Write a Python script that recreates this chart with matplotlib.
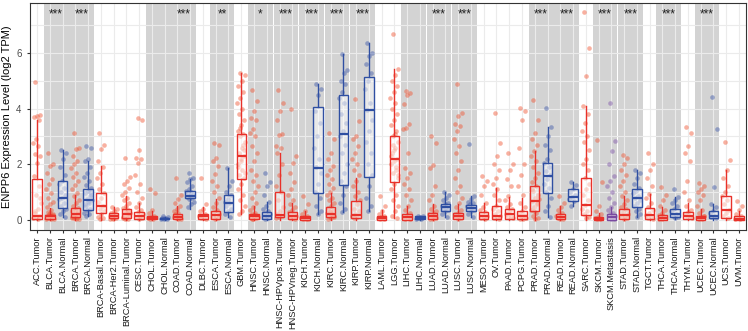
import matplotlib
matplotlib.use("Agg")
import matplotlib.pyplot as plt
from matplotlib.patches import Rectangle
import numpy as np

plt.rcParams['font.family'] = ['Liberation Sans', 'DejaVu Sans']

# Categories (x axis)
categories = [
    "ACC.Tumor", "BLCA.Tumor", "BLCA.Normal", "BRCA.Tumor", "BRCA.Normal",
    "BRCA-Basal.Tumor", "BRCA-Her2.Tumor", "BRCA-Luminal.Tumor", "CESC.Tumor",
    "CHOL.Tumor", "CHOL.Normal", "COAD.Tumor", "COAD.Normal", "DLBC.Tumor",
    "ESCA.Tumor", "ESCA.Normal", "GBM.Tumor", "HNSC.Tumor", "HNSC.Normal",
    "HNSC-HPVpos.Tumor", "HNSC-HPVneg.Tumor", "KICH.Tumor", "KICH.Normal",
    "KIRC.Tumor", "KIRC.Normal", "KIRP.Tumor", "KIRP.Normal", "LAML.Tumor",
    "LGG.Tumor", "LIHC.Tumor", "LIHC.Normal", "LUAD.Tumor", "LUAD.Normal",
    "LUSC.Tumor", "LUSC.Normal", "MESO.Tumor", "OV.Tumor", "PAAD.Tumor",
    "PCPG.Tumor", "PRAD.Tumor", "PRAD.Normal", "READ.Tumor", "READ.Normal",
    "SARC.Tumor", "SKCM.Tumor", "SKCM.Metastasis", "STAD.Tumor", "STAD.Normal",
    "TGCT.Tumor", "THCA.Tumor", "THCA.Normal", "THYM.Tumor", "UCEC.Tumor",
    "UCEC.Normal", "UCS.Tumor", "UVM.Tumor",
]

# Box statistics (log2 TPM)
q1 = [0.04, 0.02, 0.42, 0.10, 0.36, 0.25, 0.06, 0.07, 0.04, 0.01, 0.02, 0.01, 0.78, 0.04,
      0.01, 0.27, 1.47, 0.01, 0.04, 0.10, 0.04, 0.00, 0.97, 0.10, 1.26, 0.06, 1.53, 0.00,
      1.37, 0.00, 0.01, 0.04, 0.33, 0.04, 0.30, 0.04, 0.01, 0.04, 0.01, 0.31, 0.95, 0.01,
      0.66, 0.18, 0.00, 0.00, 0.04, 0.45, 0.04, 0.00, 0.10, 0.04, 0.00, 0.07, 0.07, 0.00]
med = [0.15, 0.12, 0.78, 0.21, 0.72, 0.51, 0.15, 0.21, 0.15, 0.07, 0.04, 0.10, 0.87, 0.13,
       0.18, 0.60, 2.30, 0.13, 0.15, 0.18, 0.12, 0.06, 1.88, 0.21, 3.10, 0.18, 3.95, 0.07,
       2.18, 0.10, 0.07, 0.15, 0.45, 0.15, 0.43, 0.15, 0.15, 0.21, 0.12, 0.67, 1.59, 0.10,
       0.83, 0.54, 0.03, 0.10, 0.18, 0.78, 0.18, 0.07, 0.21, 0.15, 0.07, 0.15, 0.36, 0.04]
q3 = [1.47, 0.18, 1.41, 0.42, 1.10, 0.95, 0.24, 0.39, 0.27, 0.15, 0.06, 0.20, 1.05, 0.21,
      0.31, 0.90, 3.10, 0.21, 0.27, 1.00, 0.27, 0.13, 4.05, 0.45, 4.48, 0.66, 5.14, 0.15,
      3.00, 0.21, 0.13, 0.25, 0.57, 0.25, 0.54, 0.27, 0.51, 0.39, 0.33, 1.20, 2.06, 0.21,
      1.10, 1.49, 0.10, 0.19, 0.37, 1.09, 0.42, 0.18, 0.39, 0.27, 0.15, 0.33, 0.87, 0.12]
whis_lo = [0.00, 0.00, 0.10, 0.00, 0.15, 0.00, 0.00, 0.00, 0.00, 0.00, 0.00, 0.00, 0.40, 0.00,
           0.00, 0.10, 0.20, 0.00, 0.00, 0.00, 0.00, 0.00, 0.21, 0.00, 0.27, 0.00, 0.33, 0.00,
           0.05, 0.00, 0.00, 0.00, 0.10, 0.00, 0.10, 0.00, 0.00, 0.00, 0.00, 0.00, 0.10, 0.00,
           0.51, 0.00, 0.00, 0.00, 0.00, 0.10, 0.00, 0.00, 0.03, 0.00, 0.00, 0.00, 0.00, 0.00]
whis_hi = [3.59, 0.42, 2.50, 0.90, 2.10, 1.94, 0.45, 0.85, 0.60, 0.30, 0.10, 0.48, 1.47, 0.45,
           0.75, 1.88, 5.30, 0.50, 0.63, 2.42, 0.60, 0.30, 4.87, 0.95, 5.96, 1.50, 6.38, 0.35,
           5.43, 0.50, 0.15, 0.55, 0.99, 0.55, 0.87, 0.60, 1.14, 0.81, 0.80, 2.48, 3.35, 0.50,
           1.37, 4.09, 0.25, 0.45, 0.85, 1.79, 0.93, 0.45, 0.81, 0.60, 0.37, 0.57, 1.79, 0.30]

# Visible sample points per category (approximate readings)
points = [
    [4.95, 3.78, 3.75, 3.7, 3.6, 2.9, 2.78, 2.66, 2.36, 2.3, 2.06, 1.59, 1.2, 0.9, 0.6, 0.4, 0.25, 0.15, 0.1, 0.05, 0.02, 0.3, 0.8],
    [2.42, 2.0, 1.94, 1.7, 1.47, 1.29, 1.1, 0.95, 0.8, 0.65, 0.55, 0.45, 0.35, 0.28, 0.2, 0.15, 0.12, 0.08, 0.05, 0.03, 0.02, 0.1, 0.18, 0.25, 0.06, 0.14, 0.22, 0.04, 0.09],
    [2.5, 2.4, 2.2, 1.9, 1.6, 1.4, 1.3, 1.15, 1.0, 0.9, 0.8, 0.75, 0.6, 0.5, 0.4, 0.3, 0.2, 0.1],
    [3.14, 2.6, 2.55, 2.3, 2.1, 2.0, 1.85, 1.7, 1.55, 1.4, 1.25, 1.1, 0.95, 0.85, 0.7, 0.6, 0.5, 0.42, 0.35, 0.3, 0.25, 0.2, 0.15, 0.12, 0.1, 0.08, 0.05, 0.03, 0.02, 0.18, 0.28, 0.38, 0.07, 0.22, 0.13],
    [2.66, 2.6, 2.2, 2.1, 1.9, 1.7, 1.55, 1.4, 1.25, 1.15, 1.05, 0.95, 0.85, 0.75, 0.7, 0.6, 0.5, 0.4, 0.35, 0.25, 0.2, 0.15, 0.9, 0.65, 0.55, 1.0],
    [3.14, 2.7, 2.56, 2.1, 1.9, 1.7, 1.5, 1.3, 1.1, 0.95, 0.8, 0.65, 0.5, 0.4, 0.3, 0.2, 0.1, 0.05, 0.02],
    [0.45, 0.38, 0.3, 0.25, 0.2, 0.17, 0.14, 0.1, 0.08, 0.06, 0.04, 0.02],
    [2.24, 1.55, 1.4, 1.3, 1.15, 1.0, 0.9, 0.8, 0.7, 0.6, 0.5, 0.42, 0.36, 0.3, 0.25, 0.2, 0.15, 0.12, 0.08, 0.05, 0.03, 0.01, 0.18, 0.27, 0.1, 0.33],
    [3.67, 3.6, 2.5, 2.24, 2.18, 2.06, 1.6, 1.3, 1.0, 0.8, 0.6, 0.45, 0.35, 0.27, 0.2, 0.15, 0.1, 0.06, 0.03],
    [1.1, 0.95, 0.35, 0.25, 0.15, 0.1, 0.07, 0.04, 0.02],
    [0.15, 0.1, 0.07, 0.05, 0.04, 0.03, 0.02],
    [1.5, 0.9, 0.75, 0.6, 0.5, 0.4, 0.3, 0.25, 0.2, 0.15, 0.12, 0.1, 0.07, 0.05, 0.03, 0.01, 0.18, 0.09, 0.13],
    [1.7, 1.5, 1.45, 1.35, 1.2, 1.1, 1.05, 1.0, 0.95, 0.9, 0.87, 0.83, 0.8, 0.75, 0.65, 0.55, 0.45],
    [1.5, 0.55, 0.4, 0.3, 0.2, 0.15, 0.12, 0.08, 0.05, 0.03],
    [2.75, 2.7, 2.24, 2.1, 1.94, 1.65, 1.4, 1.2, 1.0, 0.8, 0.6, 0.45, 0.35, 0.28, 0.2, 0.15, 0.1, 0.05, 0.02],
    [1.88, 1.4, 1.2, 1.0, 0.9, 0.75, 0.65, 0.6, 0.5, 0.4, 0.3, 0.2, 0.1],
    [5.3, 5.2, 5.0, 4.8, 4.6, 4.4, 4.2, 4.0, 3.8, 3.6, 3.4, 3.2, 3.1, 3.0, 2.8, 2.6, 2.4, 2.3, 2.2, 2.0, 1.8, 1.6, 1.5, 1.3, 1.1, 0.9, 0.7, 0.5, 0.3, 0.2, 2.5, 2.1, 1.9, 2.7, 3.3, 1.7],
    [4.66, 4.27, 3.9, 3.67, 3.6, 3.25, 3.14, 3.0, 2.66, 2.4, 2.1, 1.8, 1.6, 1.4, 1.2, 1.0, 0.8, 0.6, 0.45, 0.35, 0.25, 0.2, 0.15, 0.12, 0.08, 0.05, 0.02, 0.1, 0.17, 0.04],
    [1.7, 1.35, 1.2, 0.9, 0.63, 0.5, 0.4, 0.3, 0.25, 0.2, 0.15, 0.1, 0.06, 0.03],
    [4.66, 4.2, 3.9, 3.6, 3.1, 3.05, 2.66, 2.6, 2.42, 2.0, 1.6, 1.2, 1.0, 0.7, 0.45, 0.3, 0.2, 0.15, 0.1, 0.05],
    [3.97, 2.3, 2.06, 1.7, 1.35, 1.1, 0.9, 0.7, 0.55, 0.45, 0.35, 0.27, 0.2, 0.15, 0.12, 0.08, 0.05, 0.02],
    [0.85, 0.55, 0.3, 0.2, 0.13, 0.1, 0.06, 0.04, 0.02, 0.01],
    [4.87, 4.7, 4.5, 3.9, 3.5, 3.0, 2.6, 2.2, 1.9, 1.7, 1.3, 1.0, 0.8, 0.5, 0.3, 0.21],
    [3.14, 2.9, 2.42, 2.2, 1.94, 1.8, 1.6, 1.45, 1.3, 1.15, 1.0, 0.9, 0.8, 0.7, 0.6, 0.5, 0.42, 0.35, 0.3, 0.25, 0.2, 0.15, 0.1, 0.07, 0.04, 0.18, 0.28, 0.12, 0.22],
    [5.96, 5.4, 5.3, 5.0, 4.9, 4.6, 4.4, 4.2, 3.8, 3.5, 3.2, 3.0, 2.7, 2.4, 2.0, 1.7, 1.4, 1.2, 0.9, 0.6, 0.4, 0.27],
    [4.35, 3.55, 3.0, 2.9, 2.66, 2.4, 2.2, 2.0, 1.8, 1.6, 1.4, 1.2, 1.0, 0.85, 0.7, 0.55, 0.4, 0.3, 0.2, 0.15, 0.1, 0.06],
    [6.38, 6.0, 5.9, 5.6, 5.3, 5.0, 4.7, 4.2, 3.95, 3.6, 3.2, 2.8, 2.4, 2.0, 1.6, 1.2, 0.8, 0.5, 0.33],
    [0.87, 0.5, 0.3, 0.2, 0.15, 0.1, 0.07, 0.05, 0.03, 0.01],
    [6.7, 5.43, 5.2, 5.0, 4.8, 4.6, 4.4, 4.2, 4.0, 3.8, 3.6, 3.4, 3.2, 3.0, 2.8, 2.6, 2.4, 2.2, 2.1, 2.0, 1.9, 1.7, 1.5, 1.3, 1.1, 0.9, 0.7, 0.5, 0.3, 0.15, 0.05, 2.5, 2.3, 1.8, 2.7, 1.6, 3.1],
    [4.63, 4.57, 4.5, 4.15, 3.43, 3.3, 3.25, 2.42, 1.88, 1.7, 1.5, 1.3, 1.1, 0.9, 0.7, 0.5, 0.35, 0.25, 0.18, 0.12, 0.08, 0.04, 0.01],
    [0.15, 0.12, 0.1, 0.08, 0.07, 0.05, 0.03, 0.01],
    [3.0, 2.78, 1.98, 1.88, 1.2, 0.9, 0.7, 0.5, 0.4, 0.3, 0.25, 0.2, 0.15, 0.1, 0.07, 0.04, 0.02, 0.12, 0.18],
    [0.99, 0.9, 0.8, 0.7, 0.6, 0.55, 0.5, 0.45, 0.4, 0.35, 0.3, 0.2, 0.1],
    [4.87, 3.85, 3.73, 3.43, 3.37, 3.2, 2.9, 2.66, 2.4, 2.1, 1.8, 1.5, 1.2, 1.0, 0.8, 0.6, 0.45, 0.35, 0.25, 0.2, 0.15, 0.1, 0.06, 0.03, 0.12, 0.18],
    [2.74, 0.87, 0.75, 0.65, 0.6, 0.55, 0.5, 0.45, 0.4, 0.35, 0.3, 0.2, 0.1],
    [1.59, 1.4, 1.2, 0.9, 0.6, 0.45, 0.35, 0.27, 0.2, 0.15, 0.1, 0.06, 0.03],
    [3.85, 2.78, 2.3, 2.0, 1.8, 1.5, 1.3, 1.1, 0.9, 0.7, 0.5, 0.4, 0.3, 0.2, 0.15, 0.1, 0.05, 0.01],
    [2.42, 2.0, 1.8, 1.47, 1.2, 0.87, 0.7, 0.55, 0.45, 0.39, 0.3, 0.21, 0.15, 0.1, 0.05],
    [4.03, 3.9, 3.6, 2.6, 2.0, 1.6, 1.2, 0.9, 0.6, 0.45, 0.33, 0.25, 0.18, 0.12, 0.08, 0.04, 0.01],
    [4.3, 3.6, 3.14, 2.9, 2.7, 2.48, 2.3, 2.1, 1.9, 1.7, 1.5, 1.35, 1.2, 1.05, 0.9, 0.8, 0.67, 0.55, 0.45, 0.35, 0.25, 0.15, 0.08, 0.02, 1.1, 0.6, 0.3, 0.75],
    [4.03, 3.35, 3.0, 2.7, 2.5, 2.2, 2.06, 1.9, 1.75, 1.6, 1.45, 1.3, 1.15, 1.0, 0.8, 0.5, 0.3, 0.1],
    [0.87, 0.6, 0.45, 0.35, 0.25, 0.2, 0.15, 0.1, 0.07, 0.04, 0.01],
    [1.37, 1.25, 1.1, 1.0, 0.9, 0.83, 0.75, 0.66, 0.51],
    [7.49, 6.2, 5.16, 4.09, 3.8, 3.5, 3.2, 3.0, 2.8, 2.5, 2.2, 2.0, 1.8, 1.5, 1.3, 1.1, 0.9, 0.7, 0.54, 0.4, 0.3, 0.2, 0.1, 0.05],
    [2.86, 1.37, 0.5, 0.3, 0.2, 0.1, 0.06, 0.03, 0.01],
    [4.19, 2.84, 2.48, 2.0, 1.59, 1.4, 1.2, 1.0, 0.8, 0.6, 0.45, 0.35, 0.25, 0.19, 0.14, 0.1, 0.06, 0.03, 0.01],
    [2.33, 2.24, 2.0, 1.8, 1.6, 1.4, 1.2, 1.0, 0.85, 0.7, 0.55, 0.45, 0.37, 0.28, 0.2, 0.15, 0.1, 0.06, 0.03],
    [1.79, 1.7, 1.5, 1.3, 1.15, 1.05, 0.95, 0.85, 0.78, 0.7, 0.6, 0.5, 0.4, 0.3, 0.2, 0.1],
    [2.4, 2.0, 1.8, 1.5, 1.2, 0.93, 0.8, 0.6, 0.45, 0.35, 0.25, 0.18, 0.12, 0.06, 0.02],
    [1.17, 0.9, 0.7, 0.5, 0.35, 0.25, 0.18, 0.12, 0.08, 0.05, 0.02, 0.01, 0.1, 0.15],
    [1.1, 0.81, 0.7, 0.6, 0.5, 0.39, 0.3, 0.21, 0.15, 0.1, 0.05],
    [3.35, 3.14, 2.66, 2.42, 2.12, 1.4, 1.0, 0.7, 0.5, 0.35, 0.27, 0.2, 0.15, 0.1, 0.05],
    [1.31, 1.2, 1.1, 1.0, 0.9, 0.7, 0.5, 0.35, 0.25, 0.15, 0.1, 0.07, 0.04, 0.01, 0.12, 0.05],
    [4.41, 3.26, 1.19, 0.57, 0.45, 0.33, 0.25, 0.15, 0.1, 0.07],
    [2.8, 2.15, 1.79, 1.5, 1.2, 1.0, 0.87, 0.7, 0.55, 0.36, 0.25, 0.15, 0.07],
    [0.69, 0.5, 0.35, 0.2, 0.12, 0.08, 0.04, 0.02],
]

# Tumor / normal comparisons (shaded) and their significance marks
pairs = [
    ("BLCA.Tumor", "BLCA.Normal"), ("BRCA.Tumor", "BRCA.Normal"),
    ("CHOL.Tumor", "CHOL.Normal"), ("COAD.Tumor", "COAD.Normal"),
    ("ESCA.Tumor", "ESCA.Normal"), ("HNSC.Tumor", "HNSC.Normal"),
    ("HNSC-HPVpos.Tumor", "HNSC-HPVneg.Tumor"), ("KICH.Tumor", "KICH.Normal"),
    ("KIRC.Tumor", "KIRC.Normal"), ("KIRP.Tumor", "KIRP.Normal"),
    ("LIHC.Tumor", "LIHC.Normal"), ("LUAD.Tumor", "LUAD.Normal"),
    ("LUSC.Tumor", "LUSC.Normal"), ("PRAD.Tumor", "PRAD.Normal"),
    ("READ.Tumor", "READ.Normal"), ("SKCM.Tumor", "SKCM.Metastasis"),
    ("STAD.Tumor", "STAD.Normal"), ("THCA.Tumor", "THCA.Normal"),
    ("UCEC.Tumor", "UCEC.Normal"),
]
signif = ["***", "***", "", "***", "**", "*", "***", "***", "***", "***",
          "", "***", "***", "***", "***", "***", "***", "***", "***"]

box_colors = {"Tumor": "#e8312a", "Normal": "#2f4fa2", "Metastasis": "#7a4aa0"}
point_colors = {"Tumor": "#f0502e", "Normal": "#3a55a8", "Metastasis": "#7d52a8"}

fig = plt.figure(figsize=(7.48, 3.31), dpi=100)
ax = fig.add_axes([30 / 748, 1 - 230 / 331, 716 / 748, 227.5 / 331])

pos = np.arange(1, len(categories) + 1)
idx = {c: i for i, c in enumerate(categories)}

# gray bands behind paired groups
for (a, b), s in zip(pairs, signif):
    xa, xb = pos[idx[a]], pos[idx[b]]
    ax.add_patch(Rectangle((xa - 0.47, -1), xb - xa + 0.94, 10,
                           facecolor="#d3d3d3", edgecolor="none", zorder=0.1))
    if s:
        ax.text((xa + xb) / 2, 7.38, s, ha="center", va="center",
                fontsize=8.5, color="#222222", zorder=5)

# jittered points
for i, c in enumerate(categories):
    kind = c.split(".")[1]
    vals = np.array(points[i])
    n = len(vals)
    off = ((np.arange(n) * 0.618034 + 0.3) % 1 - 0.5) * 0.62
    ax.scatter(pos[i] + off, vals, s=11, color=point_colors[kind], alpha=0.45,
               linewidths=0, zorder=2)

# boxes
for i, c in enumerate(categories):
    kind = c.split(".")[1]
    col = box_colors[kind]
    st = [dict(med=med[i], q1=q1[i], q3=q3[i], whislo=whis_lo[i], whishi=whis_hi[i])]
    ax.bxp(st, positions=[pos[i]], widths=0.74, showfliers=False, showcaps=False,
           patch_artist=True,
           boxprops=dict(facecolor=(1, 1, 1, 0.5), edgecolor=col, linewidth=1.0),
           whiskerprops=dict(color=col, linewidth=1.0),
           medianprops=dict(color=col, linewidth=1.6),
           zorder=3)

ax.set_xlim(0.45, 56.55)
ax.set_ylim(-0.37, 7.82)
ax.set_xticks(pos)
ax.set_xticklabels(categories, rotation=90, fontsize=6.7, color="#1a1a1a")
ax.set_yticks([0, 2, 4, 6])
ax.set_yticks([1, 3, 5, 7], minor=True)
ax.tick_params(axis="y", labelsize=7, labelcolor="#4d4d4d", length=2.5, color="#333333")
ax.tick_params(axis="x", length=2.5, color="#333333", pad=2)
ax.tick_params(axis="y", which="minor", length=0)
ax.set_axisbelow(True)
ax.grid(True, which="both", color="#ebebeb", linewidth=0.8)
for sp in ax.spines.values():
    sp.set_color("#333333")
    sp.set_linewidth(0.8)
ax.set_ylabel("ENPP6 Expression Level (log2 TPM)", fontsize=8, labelpad=3)

fig.savefig("out.png", dpi=100)
